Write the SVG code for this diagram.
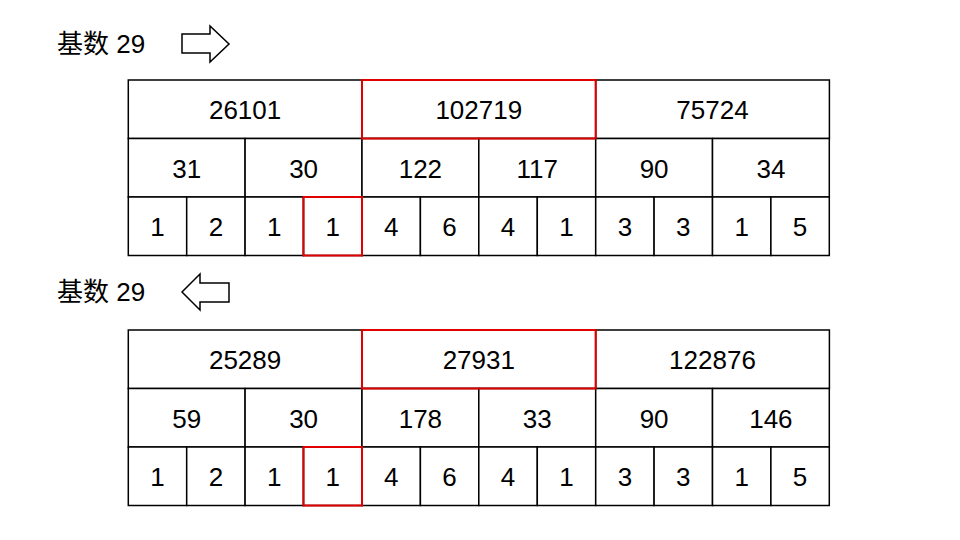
<svg xmlns="http://www.w3.org/2000/svg" width="960" height="540" viewBox="0 0 960 540">
<style>
.c{fill:#fff;stroke:#000;stroke-width:1.5}
.r{fill:none;stroke:#e00000;stroke-width:2}
.t{font-family:"Liberation Sans","Noto Sans CJK SC",sans-serif;font-size:26px;fill:#000;text-anchor:middle}
.l{font-family:"Liberation Sans","Noto Sans CJK SC",sans-serif;font-size:26px;fill:#000}
.a{fill:#fff;stroke:#000;stroke-width:1.5;stroke-linejoin:miter}
</style>
<rect width="960" height="540" fill="#fff"/>
<g id="label-top"><text class="l" x="57" y="53">基数 29</text></g>
<g id="arrow-right"><polygon class="a" points="182,34 210,34 210,26 229,44 210,62 210,53 182,53"/></g>
<g id="label-bottom"><text class="l" x="57" y="301">基数 29</text></g>
<g id="arrow-left"><polygon class="a" points="229,283 200,283 200,274 182,292 200,310 200,302 229,302"/></g>

<g id="table-top">
<g id="t1-row1">
<rect class="c" x="128.3" y="80" width="233.7" height="58.5"/><text class="t" x="245.1" y="119">26101</text>
<rect class="c" x="362" y="80" width="233.7" height="58.5"/><text class="t" x="478.8" y="119">102719</text>
<rect class="c" x="595.7" y="80" width="233.7" height="58.5"/><text class="t" x="712.5" y="119">75724</text>
</g>
<g id="t1-row2">
<rect class="c" x="128.3" y="138.5" width="116.8" height="58.5"/><text class="t" x="186.7" y="177.5">31</text>
<rect class="c" x="245.1" y="138.5" width="116.9" height="58.5"/><text class="t" x="303.6" y="177.5">30</text>
<rect class="c" x="362" y="138.5" width="116.8" height="58.5"/><text class="t" x="420.4" y="177.5">122</text>
<rect class="c" x="478.8" y="138.5" width="116.9" height="58.5"/><text class="t" x="537.3" y="177.5">117</text>
<rect class="c" x="595.7" y="138.5" width="116.8" height="58.5"/><text class="t" x="654.1" y="177.5">90</text>
<rect class="c" x="712.5" y="138.5" width="116.8" height="58.5"/><text class="t" x="770.9" y="177.5">34</text>
</g>
<g id="t1-row3">
<rect class="c" x="128.3" y="197" width="58.4" height="58.5"/><text class="t" x="157.5" y="236">1</text>
<rect class="c" x="186.7" y="197" width="58.4" height="58.5"/><text class="t" x="215.9" y="236">2</text>
<rect class="c" x="245.1" y="197" width="58.4" height="58.5"/><text class="t" x="274.3" y="236">1</text>
<rect class="c" x="303.5" y="197" width="58.5" height="58.5"/><text class="t" x="332.8" y="236">1</text>
<rect class="c" x="362" y="197" width="58.4" height="58.5"/><text class="t" x="391.2" y="236">4</text>
<rect class="c" x="420.4" y="197" width="58.4" height="58.5"/><text class="t" x="449.6" y="236">6</text>
<rect class="c" x="478.8" y="197" width="58.5" height="58.5"/><text class="t" x="508" y="236">4</text>
<rect class="c" x="537.3" y="197" width="58.4" height="58.5"/><text class="t" x="566.5" y="236">1</text>
<rect class="c" x="595.7" y="197" width="58.4" height="58.5"/><text class="t" x="624.9" y="236">3</text>
<rect class="c" x="654.1" y="197" width="58.4" height="58.5"/><text class="t" x="683.3" y="236">3</text>
<rect class="c" x="712.5" y="197" width="58.4" height="58.5"/><text class="t" x="741.7" y="236">1</text>
<rect class="c" x="770.9" y="197" width="58.4" height="58.5"/><text class="t" x="800.1" y="236">5</text>
</g>
<g id="t1-highlight">
<rect class="r" x="362" y="80" width="233.7" height="58.5"/>
<rect class="r" x="303.5" y="197" width="58.5" height="58.5"/>
</g>
</g>

<g id="table-bottom">
<g id="t2-row1">
<rect class="c" x="128.3" y="330" width="233.7" height="58.5"/><text class="t" x="245.1" y="369">25289</text>
<rect class="c" x="362" y="330" width="233.7" height="58.5"/><text class="t" x="478.8" y="369">27931</text>
<rect class="c" x="595.7" y="330" width="233.7" height="58.5"/><text class="t" x="712.5" y="369">122876</text>
</g>
<g id="t2-row2">
<rect class="c" x="128.3" y="388.5" width="116.8" height="58.5"/><text class="t" x="186.7" y="427.5">59</text>
<rect class="c" x="245.1" y="388.5" width="116.9" height="58.5"/><text class="t" x="303.6" y="427.5">30</text>
<rect class="c" x="362" y="388.5" width="116.8" height="58.5"/><text class="t" x="420.4" y="427.5">178</text>
<rect class="c" x="478.8" y="388.5" width="116.9" height="58.5"/><text class="t" x="537.3" y="427.5">33</text>
<rect class="c" x="595.7" y="388.5" width="116.8" height="58.5"/><text class="t" x="654.1" y="427.5">90</text>
<rect class="c" x="712.5" y="388.5" width="116.8" height="58.5"/><text class="t" x="770.9" y="427.5">146</text>
</g>
<g id="t2-row3">
<rect class="c" x="128.3" y="447" width="58.4" height="58.5"/><text class="t" x="157.5" y="486">1</text>
<rect class="c" x="186.7" y="447" width="58.4" height="58.5"/><text class="t" x="215.9" y="486">2</text>
<rect class="c" x="245.1" y="447" width="58.4" height="58.5"/><text class="t" x="274.3" y="486">1</text>
<rect class="c" x="303.5" y="447" width="58.5" height="58.5"/><text class="t" x="332.8" y="486">1</text>
<rect class="c" x="362" y="447" width="58.4" height="58.5"/><text class="t" x="391.2" y="486">4</text>
<rect class="c" x="420.4" y="447" width="58.4" height="58.5"/><text class="t" x="449.6" y="486">6</text>
<rect class="c" x="478.8" y="447" width="58.5" height="58.5"/><text class="t" x="508" y="486">4</text>
<rect class="c" x="537.3" y="447" width="58.4" height="58.5"/><text class="t" x="566.5" y="486">1</text>
<rect class="c" x="595.7" y="447" width="58.4" height="58.5"/><text class="t" x="624.9" y="486">3</text>
<rect class="c" x="654.1" y="447" width="58.4" height="58.5"/><text class="t" x="683.3" y="486">3</text>
<rect class="c" x="712.5" y="447" width="58.4" height="58.5"/><text class="t" x="741.7" y="486">1</text>
<rect class="c" x="770.9" y="447" width="58.4" height="58.5"/><text class="t" x="800.1" y="486">5</text>
</g>
<g id="t2-highlight">
<rect class="r" x="362" y="330" width="233.7" height="58.5"/>
<rect class="r" x="303.5" y="447" width="58.5" height="58.5"/>
</g>
</g>
</svg>
